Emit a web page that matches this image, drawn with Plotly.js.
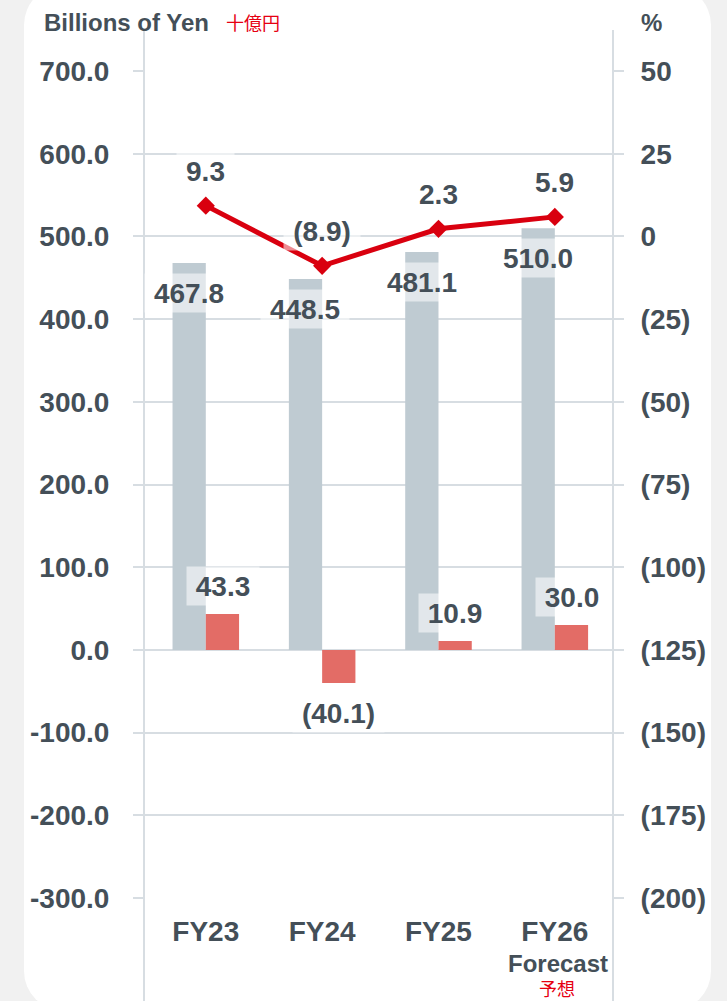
<!DOCTYPE html>
<html>
<head>
<meta charset="utf-8">
<script src="https://cdn.plot.ly/plotly-3.0.1.min.js"></script>
<style>
  html, body { margin:0; padding:0; width:727px; height:1001px; overflow:hidden; background:#f1f1f1; }
  #card { position:absolute; left:24px; top:-15px; width:687px; height:1026px; border-radius:40px; background:#ffffff; }
  #chart { position:absolute; left:0; top:0; width:727px; height:1001px; }
</style>
</head>
<body>
<div id="card"></div>
<div id="chart"></div>
<script>
// ---- data ----
const categories = ["FY23", "FY24", "FY25", "FY26"];
const categoryLabels = ["FY23", "FY24", "FY25", "FY26"];
const netSales = [467.8, 448.5, 481.1, 510.0];
const operatingIncome = [43.3, -40.1, 10.9, 30.0];
const operatingMargin = [9.3, -8.9, 2.3, 5.9];
const leftTicks = [700, 600, 500, 400, 300, 200, 100, 0, -100, -200, -300];
const rightTicks = [50, 25, 0, -25, -50, -75, -100, -125, -150, -175, -200];
const leftUnit = "Billions of Yen";
const leftUnitJa = "十億円";
const rightUnit = "%";
const forecastLabel = "Forecast";
const forecastLabelJa = "予想";

// ---- style ----
const FONT = "Liberation Sans, Arial, sans-serif";
const JFONT = "Noto Sans CJK JP, sans-serif";
const TXT = "#444f58";
const GRID = "#d7dde2";
const GRAY = "#bfcbd2";
const REDBAR = "#e36c66";
const RED = "#d9000f";
const JRED = "#e60012";

const fmtParen = v => v < 0 ? "(" + Math.abs(v).toFixed(1) + ")" : v.toFixed(1);
const fmtInt = v => v < 0 ? "(" + Math.abs(v) + ")" : String(v);

const cv = document.createElement("canvas").getContext("2d");
cv.font = "bold 28px 'Liberation Sans'";
const boxW = t => Math.round(cv.measureText(t).width + 18);

const traces = [
  { type: "bar", x: categories, y: netSales, marker: { color: GRAY }, hoverinfo: "skip", yaxis: "y" },
  { type: "bar", x: categories, y: operatingIncome, marker: { color: REDBAR }, hoverinfo: "skip", yaxis: "y" },
  { type: "scatter", mode: "lines+markers", x: categories, y: operatingMargin, yaxis: "y2",
    line: { color: RED, width: 5 }, marker: { symbol: "diamond", size: 14, color: RED }, hoverinfo: "skip" }
];

const lblFont = { family: FONT, size: 28, color: TXT, weight: 700 };
const BG = "rgba(255,255,255,0.55)";
const annotations = [];
categories.forEach((c, i) => {
  const t1 = fmtParen(netSales[i]);
  annotations.push({ x: c, y: netSales[i], xref: "x", yref: "y", xshift: -16.8, yshift: -30,
    yanchor: "middle", text: t1, showarrow: false, font: lblFont, bgcolor: BG, width: boxW(t1), height: 38, borderpad: 0 });
  const v = operatingIncome[i];
  const t2 = fmtParen(v);
  annotations.push({ x: c, y: v, xref: "x", yref: "y", xshift: 16.8, yshift: v >= 0 ? 28 : -30,
    yanchor: "middle", text: t2, showarrow: false, font: lblFont, bgcolor: BG, width: boxW(t2), height: 38, borderpad: 0 });
  const t3 = fmtParen(operatingMargin[i]);
  annotations.push({ x: c, y: operatingMargin[i], xref: "x", yref: "y2", yshift: 35,
    yanchor: "middle", text: t3, showarrow: false, font: lblFont, bgcolor: BG, width: boxW(t3), height: 38, borderpad: 0 });
});

// plot area: x 144..613, y 71..898
const px = p => (p - 144) / 469;
const py = p => (898 - p) / 827;
annotations.push(
  { xref: "paper", yref: "paper", x: px(42), y: py(22), xanchor: "left", yanchor: "middle", showarrow: false,
    text: leftUnit, font: { family: FONT, size: 24, color: TXT, weight: 700 } },
  { xref: "paper", yref: "paper", x: px(224), y: py(22), xanchor: "left", yanchor: "middle", showarrow: false,
    text: leftUnitJa, font: { family: JFONT, size: 18, color: JRED } },
  { xref: "paper", yref: "paper", x: px(639), y: py(22), xanchor: "left", yanchor: "middle", showarrow: false,
    text: rightUnit, font: { family: FONT, size: 24, color: TXT, weight: 700 } },
  { xref: "x", yref: "paper", x: categories[3], xshift: 3, y: py(963), xanchor: "center", yanchor: "middle", showarrow: false,
    text: forecastLabel, font: { family: FONT, size: 24, color: TXT, weight: 700 } },
  { xref: "x", yref: "paper", x: categories[3], xshift: 2, y: py(988), xanchor: "center", yanchor: "middle", showarrow: false,
    text: forecastLabelJa, font: { family: JFONT, size: 18, color: JRED } }
);

const layout = {
  width: 727, height: 1001,
  margin: { l: 144, r: 114, t: 71, b: 103, pad: 0 },
  paper_bgcolor: "rgba(0,0,0,0)", plot_bgcolor: "rgba(0,0,0,0)",
  showlegend: false,
  barmode: "group", bargap: 0.428, bargroupgap: 0,
  font: { family: FONT, color: TXT },
  xaxis: {
    type: "category", tickvals: categories, ticktext: categoryLabels,
    showgrid: false, zeroline: false, showline: false, ticks: "",
    tickfont: { family: FONT, size: 28, color: TXT, weight: 700 },
    ticklabelstandoff: 14, fixedrange: true
  },
  yaxis: {
    range: [-300, 700], tickvals: leftTicks, ticktext: leftTicks.map(v => v.toFixed(1)),
    showgrid: true, gridcolor: GRID, gridwidth: 2, zeroline: false, showline: false,
    ticks: "outside", ticklen: 10, tickwidth: 2, tickcolor: GRID,
    tickfont: { family: FONT, size: 28, color: TXT, weight: 700 },
    ticklabelstandoff: 18, fixedrange: true
  },
  yaxis2: {
    overlaying: "y", side: "right", range: [-200, 50], tickvals: rightTicks, ticktext: rightTicks.map(fmtInt),
    showgrid: false, zeroline: false, showline: false,
    ticks: "outside", ticklen: 10, tickwidth: 2, tickcolor: GRID,
    tickfont: { family: FONT, size: 28, color: TXT, weight: 700 },
    ticklabelstandoff: 11, fixedrange: true
  },
  shapes: [
    { type: "line", xref: "paper", yref: "paper", x0: 0, x1: 0, y0: py(1010), y1: py(30), line: { color: GRID, width: 2 }, layer: "below" },
    { type: "line", xref: "paper", yref: "paper", x0: 1, x1: 1, y0: py(1010), y1: py(30), line: { color: GRID, width: 2 }, layer: "below" }
  ],
  annotations: annotations
};

Plotly.newPlot("chart", traces, layout, { displayModeBar: false, staticPlot: true });
</script>
</body>
</html>
